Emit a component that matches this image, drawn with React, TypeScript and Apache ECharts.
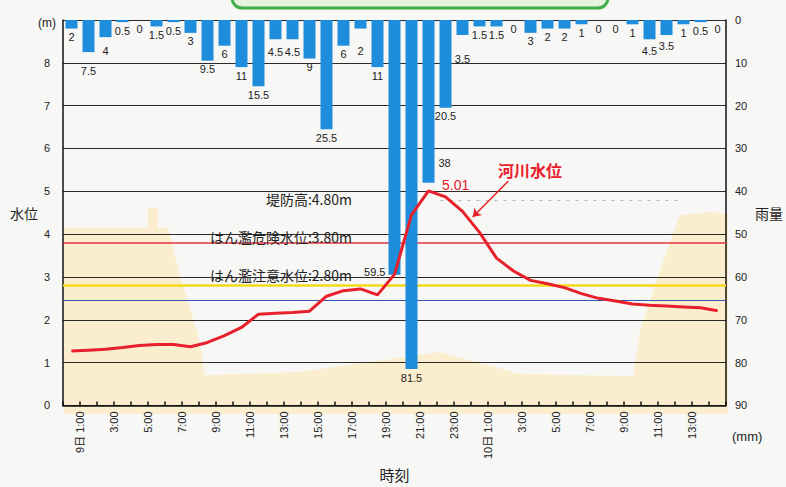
import React, { useEffect, useRef } from 'react';
import * as echarts from 'echarts';

// period index (hour ending), 9日 0:00 = 0
const hours = [1,2,3,4,5,6,7,8,9,10,11,12,13,14,15,16,17,18,19,20,21,22,23,24,25,26,27,28,29,30,31,32,33,34,35,36,37,38,39];
const rainfall = [2,7.5,4,0.5,0,1.5,0.5,3,9.5,6,11,15.5,4.5,4.5,9,25.5,6,2,11,59.5,81.5,38,20.5,3.5,1.5,1.5,0,3,2,2,1,0,0,1,4.5,3.5,1,0.5,0];
const waterLevel = [1.27,1.29,1.31,1.35,1.40,1.42,1.42,1.37,1.47,1.63,1.82,2.13,2.15,2.17,2.20,2.55,2.68,2.72,2.58,3.06,4.45,5.01,4.87,4.53,4.04,3.44,3.14,2.92,2.84,2.75,2.61,2.50,2.44,2.37,2.34,2.32,2.30,2.28,2.21];
const tickLabels = ['9日 1:00','3:00','5:00','7:00','9:00','11:00','13:00','15:00','17:00','19:00','21:00','23:00','10日 1:00','3:00','5:00','7:00','9:00','11:00','13:00'];
const leveeHeight = 4.8;
const dangerLevel = 3.8;
const cautionLevel = 2.8;
const standbyLevel = 2.45;
const thresholdTexts = ['堤防高:4.80m', 'はん濫危険水位:3.80m', 'はん濫注意水位:2.80m'];
const peakText = '5.01';
const seriesName = '河川水位';

const FONT = '"Liberation Sans", "Noto Sans CJK JP", sans-serif';
const JFONT = '"Noto Sans CJK JP", sans-serif';

export default function App() {
  const ref = useRef<HTMLDivElement>(null);
  useEffect(() => {
    if (!ref.current) return;
    const chart = echarts.init(ref.current, null, { renderer: 'svg' });

    const nudge: Record<number, number> = { 2: 10, 3: 5, 13: 4, 14: 4, 18: 14, 24: 16, 35: 3, 36: 3 };
    const barData = hours.map((h, i) => {
      const item: any = { value: [h - 0.5, rainfall[i]] };
      if (h === 20) {
        item.label = { position: [0, '100%'], align: 'right', verticalAlign: 'middle', offset: [-3, -3] };
      } else if (h === 22) {
        item.label = { position: ['100%', '88%'], align: 'left', verticalAlign: 'middle', offset: [4, 0] };
      } else if (nudge[h]) {
        item.label = { offset: [0, nudge[h]] };
      }
      return item;
    });
    const peakIdx = waterLevel.indexOf(Math.max(...waterLevel));
    const lineData = hours.map((h, i) => {
      const item: any = { value: [h - 0.5, waterLevel[i]] };
      if (i === peakIdx) {
        item.label = {
          show: true, formatter: peakText, position: 'right', offset: [8, -6],
          color: '#e8202c', fontSize: 14, fontFamily: FONT,
        };
      }
      return item;
    });

    const cream = '#fbeecf';
    const option: any = {
      animation: false,
      backgroundColor: '#f7f7f5',
      textStyle: { fontFamily: FONT },
      grid: { left: 63, right: 58, top: 20, bottom: 73 },
      graphic: [
        { type: 'polygon', z: -10, silent: true, shape: { points: [[64, 228], [168, 228], [178, 268], [198, 335], [212, 414], [64, 414]] }, style: { fill: cream } },
        { type: 'rect', z: -10, silent: true, shape: { x: 148, y: 208, width: 10, height: 22 }, style: { fill: cream } },
        { type: 'polygon', z: -10, silent: true, shape: { points: [[64, 380], [300, 372], [440, 352], [520, 374], [728, 378], [728, 414], [64, 414]] }, style: { fill: cream } },
        { type: 'polygon', z: -10, silent: true, shape: { points: [[680, 215], [712, 212], [728, 214], [728, 414], [628, 414], [640, 330], [660, 270]] }, style: { fill: cream } },
        { type: 'rect', z: 5, shape: { x: 232, y: -20, width: 376, height: 28, r: 10 }, style: { fill: '#e6f3da', stroke: '#3fae49', lineWidth: 3 } },
        { type: 'text', left: 38, top: 17, style: { text: '(m)', fontSize: 12, fill: '#222', font: `12px ${FONT}` } },
        { type: 'text', left: 732, top: 430, style: { text: '(mm)', fill: '#222', font: `13px ${FONT}` } },
        { type: 'text', z: 5, x: 352, y: 199, style: { text: thresholdTexts[0], align: 'right', verticalAlign: 'middle', fill: '#222', font: `14px ${JFONT}` } },
        { type: 'text', z: 5, x: 352, y: 237, style: { text: thresholdTexts[1], align: 'right', verticalAlign: 'middle', fill: '#222', font: `14px ${JFONT}` } },
        { type: 'text', z: 5, x: 352, y: 275, style: { text: thresholdTexts[2], align: 'right', verticalAlign: 'middle', fill: '#222', font: `14px ${JFONT}` } },
        { type: 'text', z: 5, x: 498, y: 170, style: { text: seriesName, verticalAlign: 'middle', fill: '#e8202c', font: `bold 16px ${JFONT}` } },
      ],
      xAxis: {
        type: 'value', min: 0, max: 39, interval: 1,
        axisLine: { lineStyle: { color: '#111', width: 1.5 } },
        axisTick: { inside: true, length: 4, lineStyle: { color: '#111', width: 1.5 } },
        splitLine: { show: false },
        axisLabel: {
          rotate: 90, fontSize: 11, margin: 6, color: '#222', fontFamily: FONT,
          formatter: (v: number) => (v % 2 === 1 ? tickLabels[(v - 1) / 2] ?? '' : ''),
        },
        name: '時刻', nameLocation: 'middle', nameGap: 50,
        nameTextStyle: { fontSize: 15, color: '#222', fontFamily: JFONT },
      },
      yAxis: [
        {
          type: 'value', min: 0, max: 9, interval: 1, position: 'left',
          axisLine: { show: true, lineStyle: { color: '#111', width: 1.5 } },
          axisTick: { show: false },
          axisLabel: { fontSize: 11, margin: 13, color: '#222', formatter: (v: number) => (v === 9 ? '' : String(v)) },
          splitLine: { show: true, lineStyle: { color: '#2a2a2a', width: 1 } },
          name: '水位', nameLocation: 'middle', nameRotate: 0, nameGap: 25,
          nameTextStyle: { fontSize: 14, color: '#222', fontFamily: JFONT },
        },
        {
          type: 'value', min: 0, max: 90, interval: 10, position: 'right', inverse: true,
          axisLine: { show: true, lineStyle: { color: '#111', width: 1.5 } },
          axisTick: { show: false },
          axisLabel: { fontSize: 11, margin: 9, color: '#222' },
          splitLine: { show: false },
          name: '雨量', nameLocation: 'middle', nameRotate: 0, nameGap: 29,
          nameTextStyle: { fontSize: 14, color: '#222', fontFamily: JFONT },
        },
      ],
      series: [
        {
          type: 'line', name: 'thresholds', yAxisIndex: 0, data: [], z: 1, silent: true,
          markLine: {
            z: 1, silent: true, symbol: 'none', label: { show: false },
            data: [
              [{ coord: [22.2, leveeHeight], lineStyle: { color: '#b8b8b8', width: 1, type: [3, 6] } }, { coord: [36.3, leveeHeight] }],
              { yAxis: dangerLevel, lineStyle: { color: '#e2323f', width: 1.5, type: 'solid' } },
              { yAxis: cautionLevel, lineStyle: { color: '#f3da1b', width: 2.5, type: 'solid' } },
              { yAxis: standbyLevel, lineStyle: { color: '#2f57b0', width: 1.2, type: 'solid' } },
            ],
          },
        },
        {
          type: 'bar', name: '雨量', yAxisIndex: 1, barWidth: 12, z: 3,
          itemStyle: { color: '#1e8ddc' },
          label: { show: true, position: 'bottom', distance: 3, fontSize: 11, color: '#222', fontFamily: FONT },
          data: barData,
        },
        {
          type: 'line', name: seriesName, yAxisIndex: 0, z: 6,
          symbol: 'circle', symbolSize: 1, showSymbol: true,
          itemStyle: { color: '#e8202c' },
          lineStyle: { color: '#e8202c', width: 3 },
          data: lineData,
          markLine: {
            silent: true, symbol: ['none', 'arrow'], symbolSize: 8, label: { show: false },
            lineStyle: { color: '#e8202c', width: 1.5, type: 'solid' },
            data: [[{ coord: [26.2, 5.24] }, { coord: [24.1, 4.4] }]],
          },
        },
      ],
    };
    chart.setOption(option);
    return () => chart.dispose();
  }, []);
  return <div ref={ref} style={{ position: 'fixed', left: 0, top: 0, width: 786, height: 487 }} />;
}
